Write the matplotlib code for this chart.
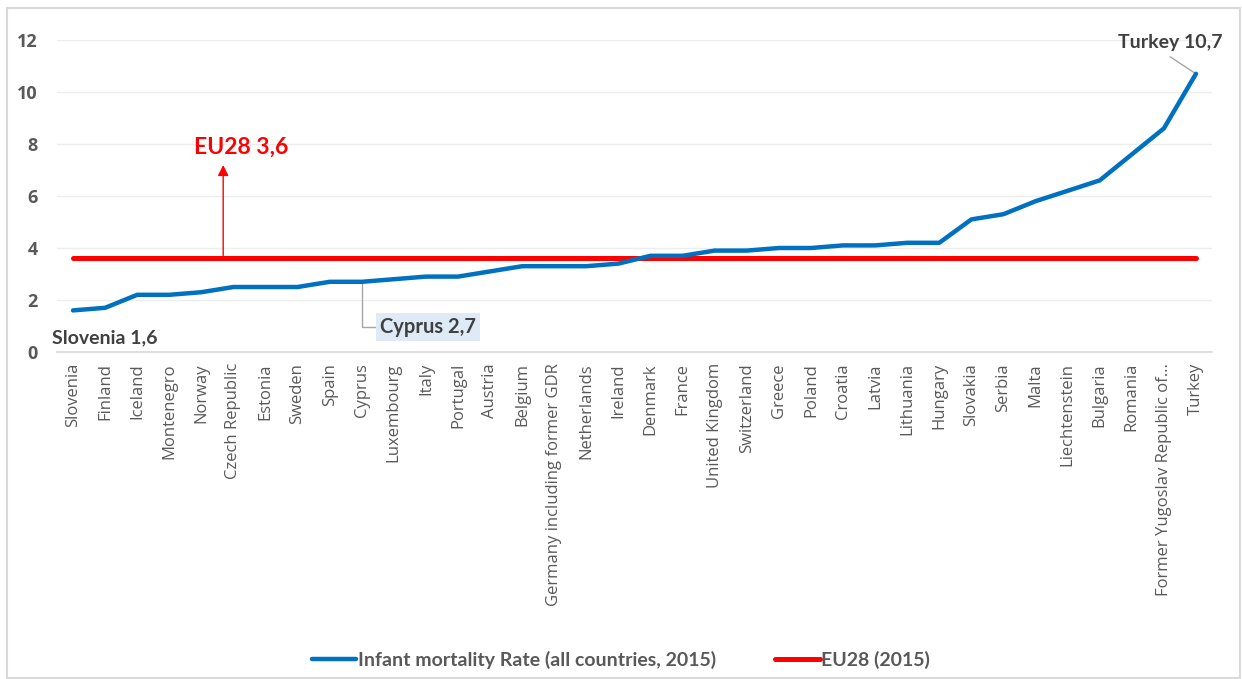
import matplotlib
matplotlib.use("Agg")
import matplotlib.pyplot as plt
from matplotlib.lines import Line2D
from matplotlib.patches import Rectangle

countries = ["Slovenia", "Finland", "Iceland", "Montenegro", "Norway", "Czech Republic",
             "Estonia", "Sweden", "Spain", "Cyprus", "Luxembourg", "Italy", "Portugal",
             "Austria", "Belgium", "Germany including former GDR", "Netherlands", "Ireland",
             "Denmark", "France", "United Kingdom", "Switzerland", "Greece", "Poland",
             "Croatia", "Latvia", "Lithuania", "Hungary", "Slovakia", "Serbia", "Malta",
             "Liechtenstein", "Bulgaria", "Romania", "Former Yugoslav Republic of...", "Turkey"]
rates = [1.6, 1.7, 2.2, 2.2, 2.3, 2.5, 2.5, 2.5, 2.7, 2.7, 2.8, 2.9, 2.9, 3.1, 3.3, 3.3,
         3.3, 3.4, 3.7, 3.7, 3.9, 3.9, 4.0, 4.0, 4.1, 4.1, 4.2, 4.2, 5.1, 5.3, 5.8, 6.2,
         6.6, 7.6, 8.6, 10.7]
eu28 = 3.6
yticks = [0, 2, 4, 6, 8, 10, 12]

BLUE = "#0070C0"
RED = "#FF0000"
GRAY = "#595959"
DARK = "#404040"

fig = plt.figure(figsize=(12.42, 6.79), dpi=100)
fig.patches.append(Rectangle((7/1242, 1/679), 1233/1242, 670/679, transform=fig.transFigure,
                             fill=False, edgecolor="#D9D9D9", linewidth=1.5))
ax = fig.add_axes([57/1242, 1-352/679, (1212-57)/1242, (352-40)/679])

x = list(range(len(countries)))
ax.plot(x, rates, color=BLUE, linewidth=3.2, solid_capstyle="round", zorder=3)
ax.plot(x, [eu28]*len(x), color=RED, linewidth=3.6, solid_capstyle="round", zorder=2)

ax.set_xlim(-0.5, len(countries) - 0.5)
ax.set_ylim(0, 12)
ax.set_yticks(yticks)
ax.set_yticklabels([str(v) for v in yticks], fontfamily="Open Sans", fontweight="bold",
                   fontsize=13, color=GRAY)
ax.set_xticks(x)
ax.set_xticklabels(countries, rotation=90, fontfamily="Open Sans", fontsize=12, color=GRAY)
ax.tick_params(axis="both", length=0)
ax.tick_params(axis="y", pad=14)
ax.tick_params(axis="x", pad=8)
ax.grid(axis="y", color="#EDEDED", linewidth=1)
ax.set_axisbelow(True)
for s in ["top", "right", "left"]:
    ax.spines[s].set_visible(False)
ax.spines["bottom"].set_color("#D9D9D9")
ax.spines["bottom"].set_linewidth(1.2)

# EU28 annotation with arrow
ax.annotate("", xy=(4.68, 7.3), xytext=(4.68, eu28), zorder=4,
            arrowprops=dict(arrowstyle="-|>", color=RED, lw=1.0, mutation_scale=16))
ax.text(5.24, 7.88, "EU28 3,6", color=RED, fontfamily="Lato", fontweight="bold",
        fontsize=16.5, ha="center", va="center")

# Slovenia label
ax.text(1.0, 0.54, "Slovenia 1,6", color=DARK, fontfamily="Lato", fontweight="bold",
        fontsize=14, ha="center", va="center")

# Cyprus label with leader
ci = countries.index("Cyprus")
ax.plot([ci, ci, ci + 0.45], [rates[ci], 0.96, 0.96], color="#A6A6A6", lw=1, zorder=2)
ax.text(ci + 2.07, 0.96, "Cyprus 2,7", color=DARK, fontfamily="Lato", fontweight="bold",
        fontsize=14.5, ha="center", va="center",
        bbox=dict(boxstyle="square,pad=0.2", facecolor="#DEEBF7", edgecolor="none"))

# Turkey label with leader
ti = countries.index("Turkey")
ax.plot([ti - 0.8, ti], [11.35, rates[ti]], color="#A6A6A6", lw=1, zorder=2)
ax.text(ti - 0.8, 11.92, "Turkey 10,7", color=DARK, fontfamily="Lato", fontweight="bold",
        fontsize=14, ha="center", va="center")

handles = [Line2D([], [], color=BLUE, lw=3.2, solid_capstyle="round"),
           Line2D([], [], color=RED, lw=3.6, solid_capstyle="round")]
leg = fig.legend(handles, ["Infant mortality Rate (all countries, 2015)", "EU28 (2015)"],
                 loc="center", bbox_to_anchor=(0.5, 1-660/679), ncol=2, frameon=False,
                 prop=dict(family="Lato", weight="bold", size=14), labelcolor=GRAY,
                 handlelength=2.3, handletextpad=0.1, columnspacing=3.0)

fig.savefig("out.png", dpi=100)
